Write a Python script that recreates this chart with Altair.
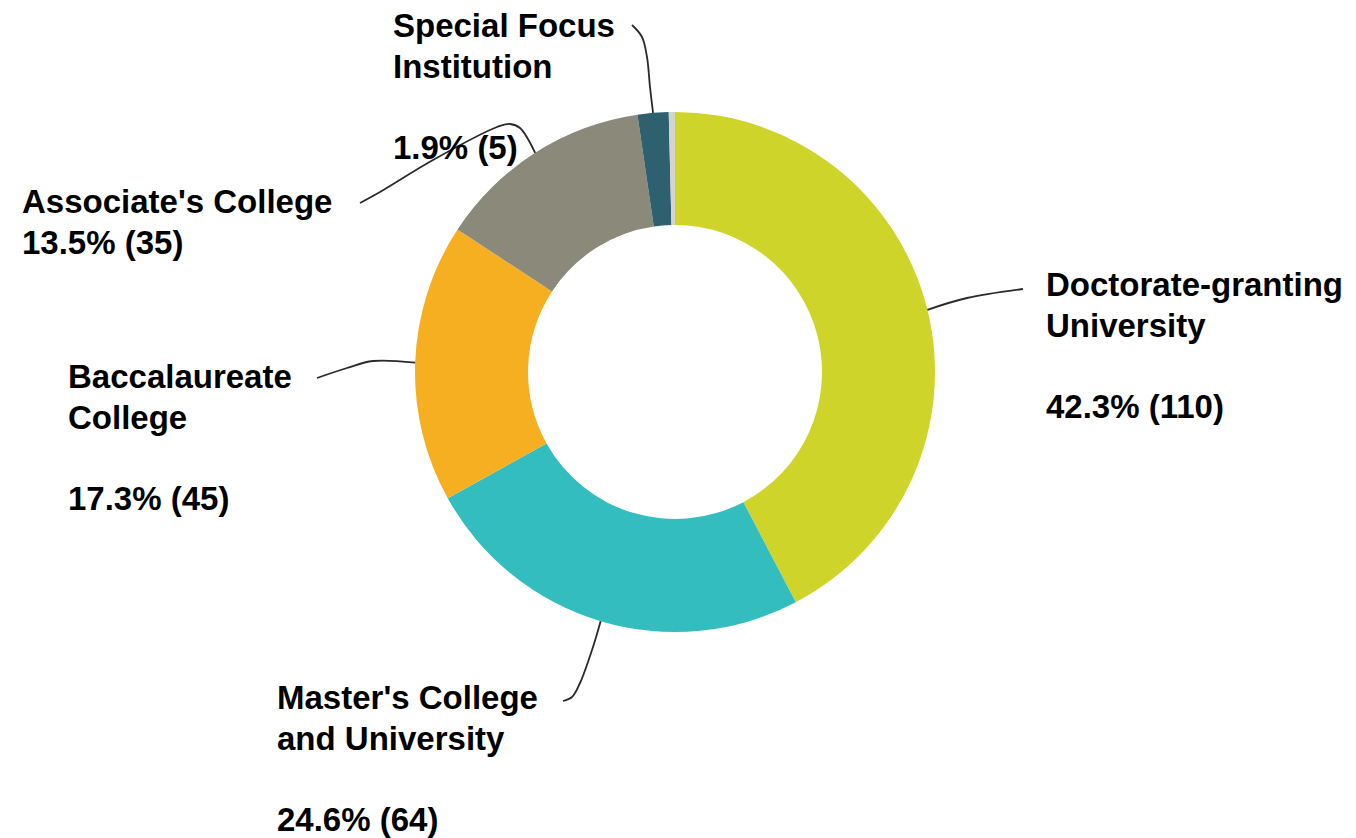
import math
import altair as alt
import pandas as pd

# ---- data ----
CATEGORIES = [
    "Doctorate-granting University",
    "Master's College and University",
    "Baccalaureate College",
    "Associate's College",
    "Special Focus Institution",
    "Other",
]
COUNTS = [110, 64, 45, 35, 5, 1]
LABEL_LINES = [
    ["Doctorate-granting", "University"],
    ["Master's College", "and University"],
    ["Baccalaureate", "College"],
    ["Associate's College"],
    ["Special Focus", "Institution"],
    None,
]

# ---- styling / layout ----
COLORS = ["#cfd42b", "#33bdbf", "#f5af20", "#8a897a", "#2e6070", "#d4d4cc"]
OFF = 8  # page margin
CX, CY = 675 - OFF, 372 - OFF
R_IN, R_OUT = 147, 260
FONT = "Liberation Sans"
FSIZE = 33
LINE_H = 40.5

# label anchor (left x, first baseline y) in page pixels, and blank line flag
LABEL_POS = {
    "Doctorate-granting University": (1046, 296, True),
    "Master's College and University": (277, 709, True),
    "Baccalaureate College": (68, 388, True),
    "Associate's College": (22, 213, False),
    "Special Focus Institution": (393, 37, True),
}
# leader-line waypoints after the slice edge point (page pixels)
LEADER_PTS = {
    "Doctorate-granting University": [(967, 298), (1023, 289)],
    "Master's College and University": [(592, 650), (580, 683), (572, 697), (563, 701)],
    "Baccalaureate College": [(373, 361), (347, 368), (317, 378)],
    "Associate's College": [(520, 128), (510, 124), (497, 127), (433, 160), (380, 192), (360, 203)],
    "Special Focus Institution": [(650, 87), (647, 57), (642, 37), (632, 25)],
}

total = sum(COUNTS)
arc_df = pd.DataFrame({
    "category": CATEGORIES,
    "count": COUNTS,
    "idx": list(range(len(CATEGORIES))),
})

label_rows, line_rows = [], []
cum = 0
for cat, v, lines in zip(CATEGORIES, COUNTS, LABEL_LINES):
    mid = (cum + v / 2) / total * 2 * math.pi
    cum += v
    if lines is None:
        continue
    pct = f"{v / total * 100:.1f}% ({v})"
    lx, ly, gap = LABEL_POS[cat]
    label_rows.append({"category": cat, "text": "\n".join(lines),
                       "lx": lx - OFF, "ly": ly - OFF})
    nl = len(lines) + (1 if gap else 0)
    label_rows.append({"category": cat, "text": pct,
                       "lx": lx - OFF, "ly": ly - OFF + nl * LINE_H})
    sx = CX + R_OUT * math.sin(mid)
    sy = CY - R_OUT * math.cos(mid)
    pts = [(sx, sy)] + [(px - OFF, py - OFF) for px, py in LEADER_PTS[cat]]
    for i, (px, py) in enumerate(pts):
        line_rows.append({"category": cat, "step": i, "px": px, "py": py})

label_df = pd.DataFrame(label_rows)
line_df = pd.DataFrame(line_rows)

arcs = alt.Chart(arc_df).mark_arc(innerRadius=R_IN, outerRadius=R_OUT).encode(
    theta=alt.Theta("count:Q", stack=True),
    order=alt.Order("idx:Q"),
    color=alt.Color("category:N", scale=alt.Scale(domain=CATEGORIES, range=COLORS), legend=None),
    x=alt.value(CX),
    y=alt.value(CY),
)

leaders = alt.Chart(line_df).mark_line(
    interpolate="catmull-rom", stroke="#2a2a2a", strokeWidth=1.8
).encode(
    x=alt.X("px:Q", scale=None, axis=None),
    y=alt.Y("py:Q", scale=None, axis=None),
    detail="category:N",
    order="step:Q",
)

labels = alt.Chart(label_df).mark_text(
    align="left", baseline="alphabetic", font=FONT, fontSize=FSIZE,
    fontWeight="bold", color="#000000", lineBreak="\n", lineHeight=LINE_H,
).encode(
    x=alt.X("lx:Q", scale=None, axis=None),
    y=alt.Y("ly:Q", scale=None, axis=None),
    text="text:N",
)

chart = alt.layer(arcs, leaders, labels).properties(
    width=1340, height=830, padding=0, autosize=alt.AutoSizeParams(type="none"),
    background="#ffffff",
).configure_view(stroke=None)

chart.save("out.html", embed_options={"renderer": "svg", "actions": False})
